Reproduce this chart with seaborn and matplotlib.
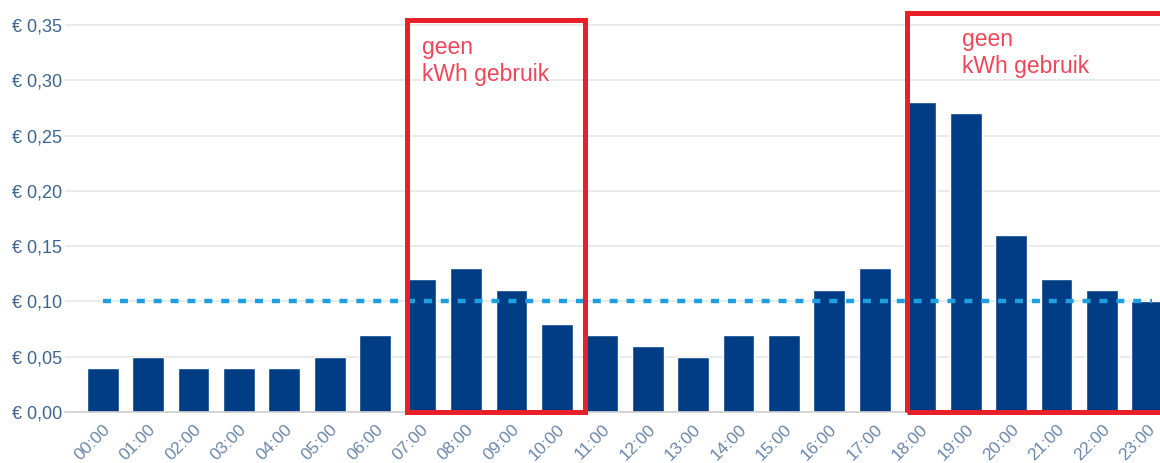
import matplotlib
matplotlib.use('Agg')
import matplotlib.pyplot as plt
import pandas as pd
import seaborn as sns
from matplotlib.patches import Rectangle

hours = ['00:00', '01:00', '02:00', '03:00', '04:00', '05:00', '06:00', '07:00',
         '08:00', '09:00', '10:00', '11:00', '12:00', '13:00', '14:00', '15:00',
         '16:00', '17:00', '18:00', '19:00', '20:00', '21:00', '22:00', '23:00']
costs = [0.04, 0.05, 0.04, 0.04, 0.04, 0.05, 0.07, 0.12, 0.13, 0.11, 0.08, 0.07,
         0.06, 0.05, 0.07, 0.07, 0.11, 0.13, 0.28, 0.27, 0.16, 0.12, 0.11, 0.10]
average_cost = 0.10
y_ticks = [0.00, 0.05, 0.10, 0.15, 0.20, 0.25, 0.30, 0.35]
box_label = 'geen\nkWh gebruik'

df = pd.DataFrame({'uur': hours, 'kosten': costs})

sns.set_style('white')
plt.rcParams['font.family'] = ['Liberation Sans', 'DejaVu Sans']

fig = plt.figure(figsize=(11.6, 4.63), dpi=100)
ax = fig.add_axes([0.056, 0.1102, 0.944, 0.874])

sns.barplot(data=df, x='uur', y='kosten', color='#003d85', saturation=1,
            width=0.7, ax=ax, zorder=2)

# dotted average line
ax.plot([0, len(hours) - 0.9], [average_cost, average_cost], color='#1ea0e0',
        linewidth=3.2, dashes=(1.8, 2.0), zorder=3)

# red boxes
ax.add_patch(Rectangle((6.69, 0.0), 10.62 - 6.69, 0.3544, fill=False,
                       edgecolor='#e8202a', linewidth=3.6, zorder=4, clip_on=False))
ax.add_patch(Rectangle((17.7, 0.0), 7.0, 0.361, fill=False,
                       edgecolor='#e8202a', linewidth=3.6, zorder=4, clip_on=False))
for x, y in [(7.03, 0.340), (18.93, 0.347)]:
    ax.text(x, y, box_label, color='#f0465a', fontsize=16.5, va='top', ha='left',
            linespacing=1.2, zorder=5,
            bbox=dict(facecolor='white', edgecolor='none', pad=1))

ax.set_xlim(-0.83, 23.28)
ax.set_ylim(0, 0.366)
ax.set_yticks(y_ticks)
ax.set_yticklabels(['€ ' + f'{v:.2f}'.replace('.', ',') for v in y_ticks],
                   color='#3d6590', fontsize=13)
ax.tick_params(axis='y', length=0, pad=2)
ax.tick_params(axis='x', length=0, pad=7)
plt.setp(ax.get_xticklabels(), rotation=45, ha='right', va='top',
         rotation_mode='anchor', color='#6a86a8', fontsize=12.5)
ax.set_xlabel('')
ax.set_ylabel('')
ax.grid(axis='y', color='#e6e6e6', linewidth=1.2, zorder=0)
ax.set_axisbelow(True)
for s in ['top', 'right', 'left']:
    ax.spines[s].set_visible(False)
ax.spines['bottom'].set_color('#d0d0d0')
ax.spines['bottom'].set_linewidth(1.2)

plt.savefig('out.png', dpi=100)
